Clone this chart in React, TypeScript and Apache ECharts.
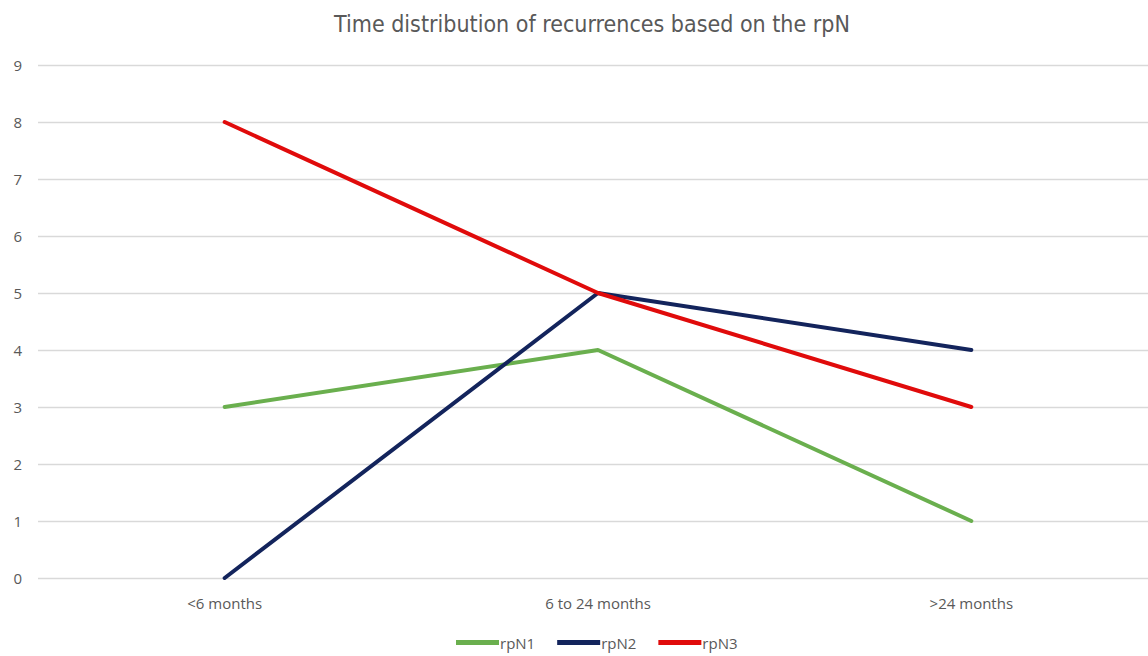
import React, { useEffect, useRef } from "react";
import * as echarts from "echarts";

const categories = ["<6 months", "6 to 24 months", ">24 months"];
const rpN1 = [3, 4, 1];
const rpN2 = [0, 5, 4];
const rpN3 = [8, 5, 3];
const seriesNames = ["rpN1", "rpN2", "rpN3"];
const colors = ["#6AAF4E", "#13245C", "#E00B0B"];

export default function App() {
  const ref = useRef<HTMLDivElement>(null);
  useEffect(() => {
    const chart = echarts.init(ref.current!, undefined, { renderer: "svg" });
    const data = [rpN1, rpN2, rpN3];
    chart.setOption({
      animation: false,
      title: {
        text: "Time distribution of recurrences based on the rpN",
        left: 587,
        textAlign: "center",
        top: 7,
        textStyle: {
          fontFamily: "'DejaVu Sans Condensed', 'Liberation Sans Narrow', sans-serif",
          fontSize: 23,
          fontWeight: "normal",
          color: "#595959",
        },
      },
      legend: {
        bottom: 1,
        left: 451,
        itemWidth: 43,
        itemHeight: 5,
        itemGap: 22,
        icon: "rect",
        textStyle: { color: "#595959", fontSize: 15, fontFamily: "'Open Sans', sans-serif", padding: [0, 0, 0, -4] },
        data: seriesNames,
      },
      grid: { left: 38, top: 65, width: 1120, height: 513, containLabel: false },
      xAxis: {
        type: "category",
        data: categories,
        boundaryGap: true,
        axisLine: { show: false },
        axisTick: { show: false },
        axisLabel: { color: "#595959", fontSize: 15, margin: 17, fontFamily: "'Open Sans', sans-serif" },
      },
      yAxis: {
        type: "value",
        min: 0,
        max: 9,
        interval: 1,
        axisLine: { show: false },
        axisTick: { show: false },
        axisLabel: { color: "#595959", fontSize: 15, margin: 16, fontFamily: "'Open Sans', sans-serif" },
        splitLine: { lineStyle: { color: "#D9D9D9", width: 1.3 } },
      },
      series: seriesNames.map((n, i) => ({
        name: n,
        type: "line",
        data: data[i],
        symbol: "none",
        color: colors[i],
        lineStyle: { width: 4, color: colors[i], cap: "round" },
      })),
    });
    return () => chart.dispose();
  }, []);
  return (
    <div style={{ position: "absolute", left: 0, top: 0, width: 1148, height: 656, overflow: "hidden", background: "#fff" }}>
      <div ref={ref} style={{ width: 1175, height: 656 }} />
    </div>
  );
}
